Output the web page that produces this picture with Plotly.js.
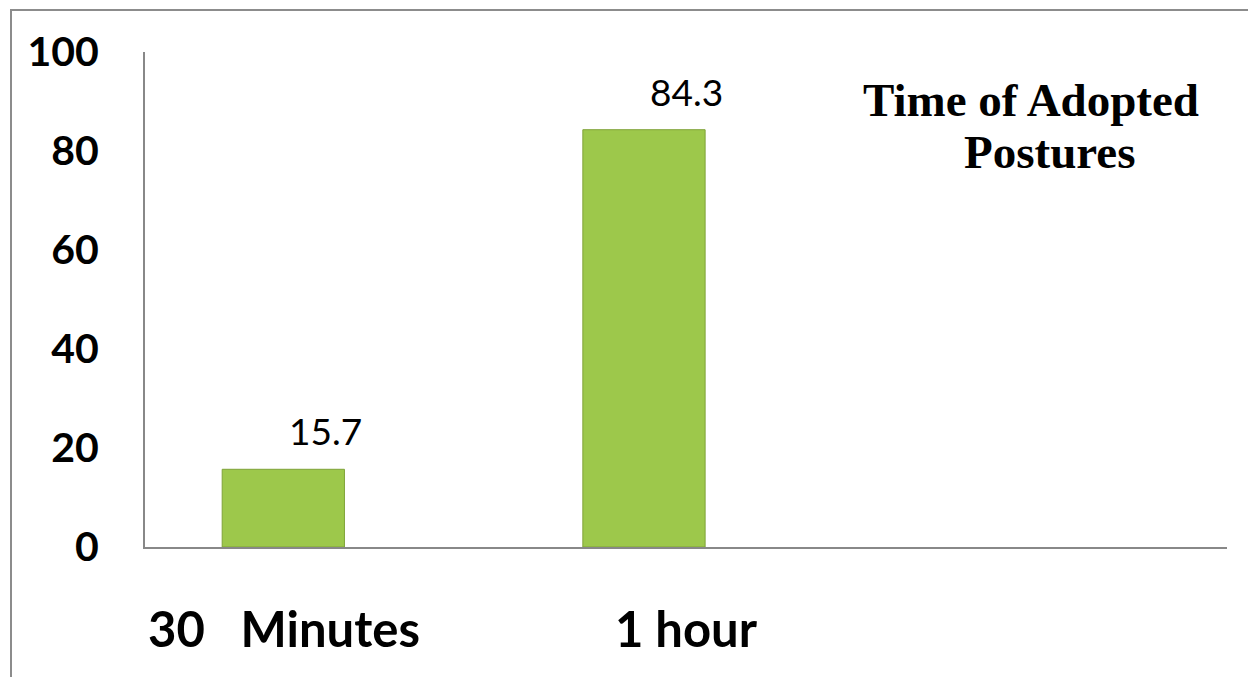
<!DOCTYPE html>
<html>
<head>
<meta charset="utf-8">
<script src="https://cdn.plot.ly/plotly-3.0.1.min.js"></script>
<style>
  html, body { margin: 0; padding: 0; background: #fff; }
  #chart { position: absolute; left: 0; top: 0; width: 1248px; height: 677px; }
  #frame { position: absolute; left: 10px; top: 9px; width: 1260px; height: 700px;
           border-left: 2px solid #8c8c8c; border-top: 2px solid #8c8c8c; pointer-events: none; }
</style>
</head>
<body>
<div id="chart"></div>
<div id="frame"></div>
<script>
// ---- data ----
const categories = ['30\u00a0\u00a0\u00a0Minutes', '1 hour'];
const values = [15.7, 84.3];
const valueLabels = ['15.7', '84.3'];
const titleLines = ['Time of Adopted', 'Postures'];
const yTicks = [0, 20, 40, 60, 80, 100];

// ---- styles ----
const catLabelShift = [-41, 0];

const trace = {
  type: 'bar',
  x: categories,
  y: values,
  width: 0.339,
  offset: -0.286,
  marker: { color: '#9DC84B', line: { color: '#7FA338', width: 1 } },
  hoverinfo: 'skip'
};

const annotations = [];
categories.forEach((c, i) => {
  annotations.push({
    x: c, xref: 'x', y: 0, yref: 'paper', yanchor: 'middle', xanchor: 'center',
    yshift: -81, xshift: catLabelShift[i], showarrow: false, text: c,
    font: { family: 'Lato', size: 49, color: '#000', weight: 'bold' }
  });
  annotations.push({
    x: c, xref: 'x', y: values[i], yref: 'y', yanchor: 'bottom', xanchor: 'center',
    yshift: 14, showarrow: false, text: valueLabels[i],
    font: { family: 'Lato', size: 37, color: '#000' }
  });
});
const titleY = [0.903, 0.798];
const titleX = [0.819, 0.836];
titleLines.forEach((t, i) => {
  annotations.push({
    x: titleX[i], xref: 'paper', y: titleY[i], yref: 'paper', xanchor: 'center', yanchor: 'middle',
    showarrow: false, text: '<b>' + t + '</b>',
    font: { family: 'Liberation Serif', size: 47, color: '#000' }
  });
});

const layout = {
  width: 1248, height: 677,
  margin: { l: 145, r: 21, t: 52, b: 130 },
  paper_bgcolor: '#fff', plot_bgcolor: '#fff',
  showlegend: false,
  font: { family: 'Lato' },
  xaxis: {
    type: 'category', categoryarray: categories, range: [-0.5, 2.5],
    showticklabels: false, showgrid: false, zeroline: false,
    showline: true, linecolor: '#888888', linewidth: 2, ticks: ''
  },
  yaxis: {
    range: [0, 100], tickvals: yTicks, ticktext: yTicks.map(String),
    showgrid: false, zeroline: false,
    showline: true, linecolor: '#888888', linewidth: 2, ticks: '',
    ticklabelstandoff: 36,
    tickfont: { family: 'Lato', size: 41, color: '#000', weight: 'bold' }
  },
  annotations: annotations
};

Plotly.newPlot('chart', [trace], layout, { displayModeBar: false, staticPlot: true });
</script>
</body>
</html>
